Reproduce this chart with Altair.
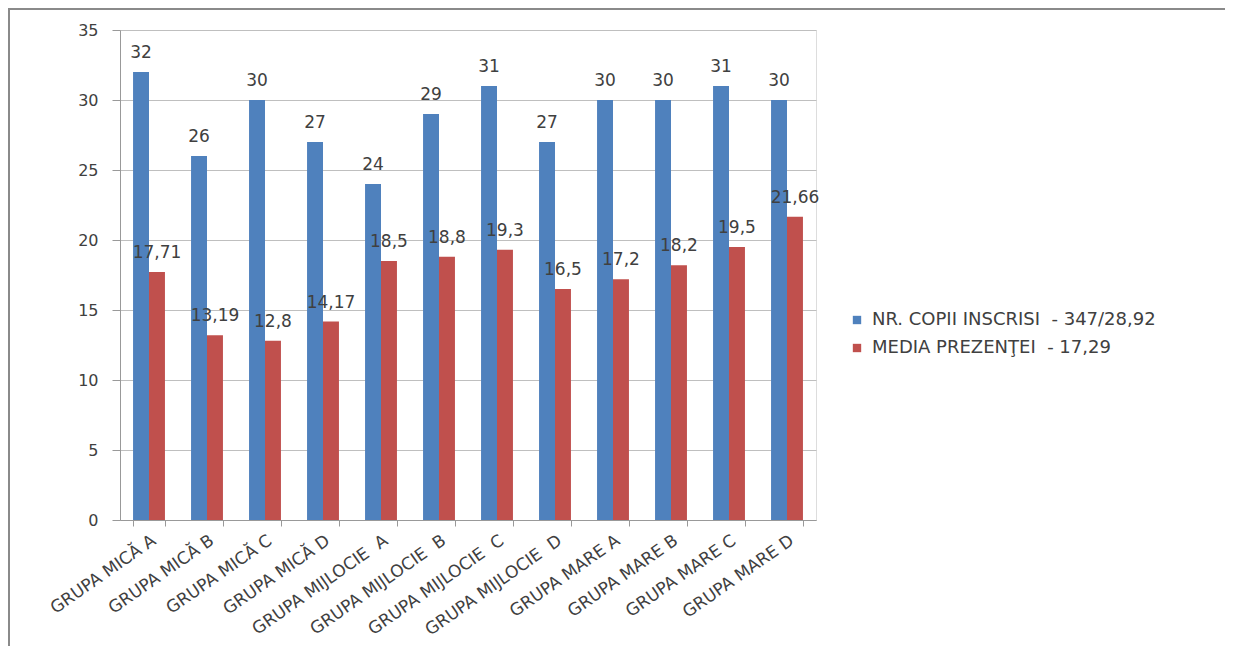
import altair as alt
import pandas as pd

NB = "\u00a0"
categories = ["GRUPA MICĂ A", "GRUPA MICĂ B", "GRUPA MICĂ C", "GRUPA MICĂ D",
              "GRUPA MIJLOCIE" + NB + NB + "A", "GRUPA MIJLOCIE" + NB + NB + "B",
              "GRUPA MIJLOCIE" + NB + NB + "C", "GRUPA MIJLOCIE" + NB + NB + "D",
              "GRUPA MARE A", "GRUPA MARE B", "GRUPA MARE C", "GRUPA MARE D"]
series_names = ["NR. COPII INSCRISI" + NB + NB + "- 347/28,92", "MEDIA PREZENŢEI" + NB + NB + "- 17,29"]
inscrisi = [32, 26, 30, 27, 24, 29, 31, 27, 30, 30, 31, 30]
prezenta = [17.71, 13.19, 12.8, 14.17, 18.5, 18.8, 19.3, 16.5, 17.2, 18.2, 19.5, 21.66]
colors = ["#4F81BD", "#C0504D"]

rows = []
for c, a, b in zip(categories, inscrisi, prezenta):
    rows.append({"cat": c, "serie": series_names[0], "val": a, "lbl": str(a).replace(".", ",")})
    rows.append({"cat": c, "serie": series_names[1], "val": b, "lbl": str(b).replace(".", ",")})
df = pd.DataFrame(rows)

FONT = "DejaVu Sans"
TXT = "#404040"

base = alt.Chart(df).encode(
    x=alt.X("cat:N", sort=categories, title=None,
            scale=alt.Scale(paddingInner=0.45, paddingOuter=0.225),
            axis=alt.Axis(labelAngle=-35, labelAlign="right", labelBaseline="top",
                          labelFont=FONT, labelFontSize=17, labelColor=TXT,
                          tickBand="extent", tickSize=6, tickColor="#999999",
                          domainColor="#999999", labelPadding=6, grid=False,
                          labelLimit=300, labelOverlap=False)),
    xOffset=alt.XOffset("serie:N", sort=series_names, scale=alt.Scale(paddingInner=0, paddingOuter=0)),
)

bars = base.mark_bar().encode(
    y=alt.Y("val:Q", title=None,
            scale=alt.Scale(domain=[0, 35], nice=False),
            axis=alt.Axis(values=[0, 5, 10, 15, 20, 25, 30, 35], labelFont=FONT, labelFontSize=16,
                          labelColor=TXT, gridColor="#BFBFBF", domainColor="#999999",
                          tickColor="#999999", tickSize=8, labelPadding=14)),
    color=alt.Color("serie:N", sort=series_names,
                    scale=alt.Scale(domain=series_names, range=colors),
                    legend=alt.Legend(title=None, orient="none", legendX=728, legendY=281,
                                      symbolType="square", symbolSize=70, symbolStrokeWidth=0,
                                      labelFont=FONT, labelFontSize=18, labelColor=TXT,
                                      rowPadding=10, labelLimit=450, labelOffset=6)),
)

labels = base.mark_text(baseline="bottom", dy=-10, font=FONT, fontSize=17, color=TXT).encode(
    y=alt.Y("val:Q"),
    text="lbl:N",
)

frame_df = pd.DataFrame({"a": [0]})
frame_left = alt.Chart(frame_df).mark_rule(stroke="#8a8a8a", strokeWidth=2).encode(
    x=alt.value(-111), y=alt.value(-22), y2=alt.value(625)
)
frame_top = alt.Chart(frame_df).mark_rule(stroke="#8a8a8a", strokeWidth=2).encode(
    x=alt.value(-112), x2=alt.value(1120), y=alt.value(-21)
)

chart = alt.layer(frame_left, frame_top, bars, labels).properties(
    width=696, height=490,
    autosize=alt.AutoSizeParams(type="none"),
    padding={"left": 112, "top": 22, "right": 409, "bottom": 126},
).configure_view(stroke="transparent", strokeWidth=0, strokeOpacity=0).configure(background="white")

chart.save("out.html", embed_options={"renderer": "svg", "actions": False})
